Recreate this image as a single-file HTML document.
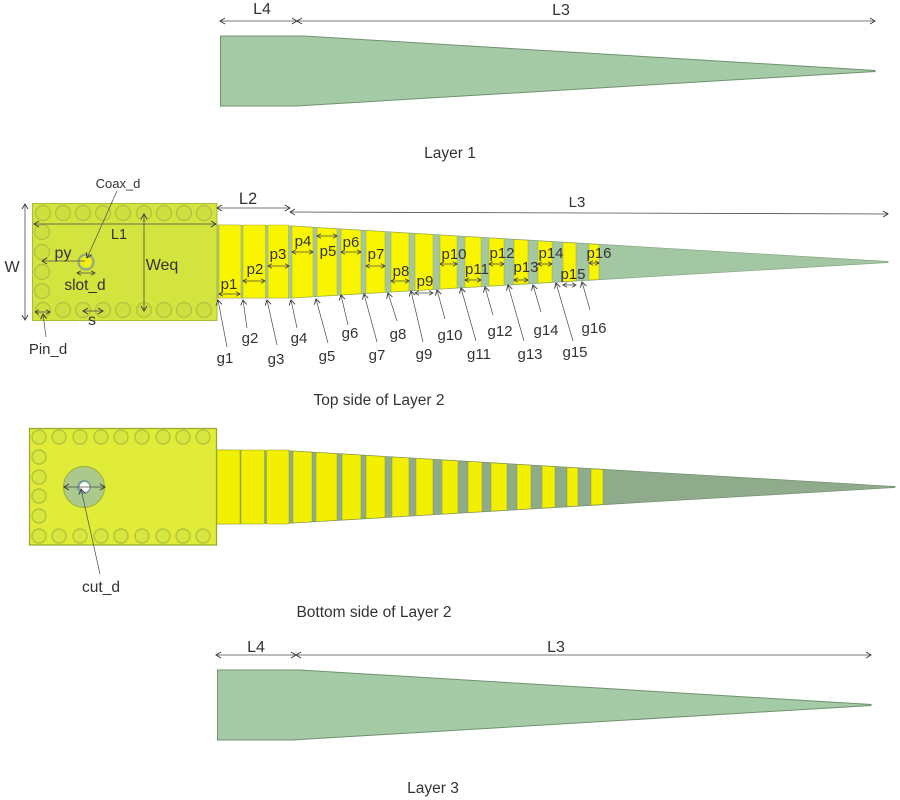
<!DOCTYPE html>
<html><head><meta charset="utf-8"><style>
html,body{margin:0;padding:0;background:#fff;width:900px;height:800px;overflow:hidden}
svg{display:block}
text{font-family:"Liberation Sans",sans-serif;fill:#333;text-anchor:middle}
.d{stroke:#4a4a4a;stroke-width:.8;fill:none;marker-start:url(#s);marker-end:url(#e)}
.a{stroke:#4a4a4a;stroke-width:.7;fill:none;marker-end:url(#e)}
.p{stroke:#4a4a4a;stroke-width:.8;fill:none;marker-start:url(#s2);marker-end:url(#e2)}
.c1 circle{fill:#cfdf40;stroke:#b3c53c;stroke-width:1.4}
.c2 circle{fill:#d8e640;stroke:#b4c43a;stroke-width:1.4}
.y1 polygon{fill:#f9f500;stroke:#a9ad2a;stroke-width:.5}
.y2 polygon{fill:#f2f000;stroke:#8d9a2a;stroke-width:.5}
.t15 text{font-size:15px}
</style></head><body>
<svg width="900" height="800" viewBox="0 0 900 800" xmlns="http://www.w3.org/2000/svg">
<defs>
<marker id="e" markerWidth="8" markerHeight="8" refX="6" refY="4" orient="auto" markerUnits="userSpaceOnUse"><path d="M1 1L6 4L1 7" fill="none" stroke="#333" stroke-width=".9"/></marker>
<marker id="s" markerWidth="8" markerHeight="8" refX="1" refY="4" orient="auto" markerUnits="userSpaceOnUse"><path d="M6 1L1 4L6 7" fill="none" stroke="#333" stroke-width=".9"/></marker>
<marker id="e2" markerWidth="6" markerHeight="6" refX="5" refY="3" orient="auto" markerUnits="userSpaceOnUse"><path d="M1 .7L5 3L1 5.3" fill="none" stroke="#333" stroke-width=".8"/></marker>
<marker id="s2" markerWidth="6" markerHeight="6" refX="1" refY="3" orient="auto" markerUnits="userSpaceOnUse"><path d="M5 .7L1 3L5 5.3" fill="none" stroke="#333" stroke-width=".8"/></marker>
</defs>

<!-- Layer 1 -->
<polygon points="220.500,36 304,36 875,70.500 875,71.500 296,106 220.500,106" fill="#a5cba6" stroke="#6f9170" stroke-width="1"/>
<line class="d" x1="220" y1="21" x2="297" y2="21"/>
<line class="d" x1="297" y1="21" x2="875" y2="21"/>
<text x="262" y="14" font-size="16">L4</text>
<text x="561" y="15" font-size="16">L3</text>
<text x="450" y="158" font-size="15.500">Layer 1</text>

<!-- Top of Layer 2 -->
<polygon points="217,225 292,226 888,261.500 888,262.500 292,298 217,298" fill="#a3c6a3" stroke="#86a786" stroke-width=".7"/>
<g class="y1">
<polygon points="219,225 241,225 241,298 219,298"/>
<polygon points="243,225 265.500,225 265.500,298 243,298"/>
<polygon points="268,225 288.500,225 288.500,298 268,298"/>
<polygon points="292,226.100 313,227.400 313,296.600 292,297.900"/>
<polygon points="317,227.600 337,228.800 337,295.200 317,296.400"/>
<polygon points="341,229.100 361,230.300 361,293.700 341,294.900"/>
<polygon points="366,230.600 385,231.700 385,292.300 366,293.400"/>
<polygon points="391,232.100 409,233.200 409,290.800 391,291.900"/>
<polygon points="415,233.500 433,234.600 433,289.400 415,290.500"/>
<polygon points="440,235 457,236.100 457,287.900 440,289"/>
<polygon points="465,236.500 481,237.500 481,286.500 465,287.500"/>
<polygon points="489,238 504,238.900 504,285.100 489,286"/>
<polygon points="514,239.500 528,240.300 528,283.700 514,284.500"/>
<polygon points="538,240.900 552,241.800 552,282.200 538,283.100"/>
<polygon points="563,242.400 576,243.200 576,280.800 563,281.600"/>
<polygon points="589,244 599,244.600 599,279.400 589,280"/>
</g>
<rect x="32.500" y="203.500" width="184.500" height="117" fill="#d4e43f" stroke="#a9b93a" stroke-width="1"/>
<g class="c1">
<circle cx="43" cy="213" r="7.500"/><circle cx="63" cy="213" r="7.500"/><circle cx="83" cy="213" r="7.500"/><circle cx="103" cy="213" r="7.500"/><circle cx="123" cy="213" r="7.500"/><circle cx="144" cy="213" r="7.500"/><circle cx="164" cy="213" r="7.500"/><circle cx="184" cy="213" r="7.500"/><circle cx="204" cy="213" r="7.500"/>
<circle cx="42" cy="232" r="7.500"/><circle cx="42" cy="252" r="7.500"/><circle cx="42" cy="272" r="7.500"/><circle cx="42" cy="291" r="7.500"/>
<circle cx="43" cy="310" r="7.500"/><circle cx="63" cy="310" r="7.500"/><circle cx="83" cy="310" r="7.500"/><circle cx="103" cy="310" r="7.500"/><circle cx="123" cy="310" r="7.500"/><circle cx="144" cy="310" r="7.500"/><circle cx="164" cy="310" r="7.500"/><circle cx="184" cy="310" r="7.500"/><circle cx="204" cy="310" r="7.500"/>
</g>
<circle cx="86" cy="262" r="7.500" fill="#d4e43f" stroke="#8fa67a" stroke-width="2"/>
<circle cx="86" cy="262" r="5" fill="#f4ee10"/>

<line class="d" x1="217" y1="208" x2="290" y2="208"/>
<line class="d" x1="290" y1="212" x2="888" y2="214"/>
<text x="248" y="204" font-size="16.500">L2</text>
<text x="577" y="207" font-size="15">L3</text>
<line class="d" x1="34" y1="224" x2="216" y2="224"/>
<line class="d" x1="25" y1="204" x2="25" y2="320"/>
<line class="d" x1="144" y1="214" x2="144" y2="311"/>
<line class="a" x1="85" y1="261" x2="42" y2="261"/>
<line class="p" x1="77" y1="273" x2="95" y2="273"/>
<line class="p" x1="35" y1="312" x2="50" y2="312"/>
<line class="d" x1="83" y1="311" x2="103" y2="311"/>
<line class="a" x1="117" y1="191" x2="87" y2="258"/>
<line class="a" x1="46" y1="337" x2="43" y2="314"/>
<text x="118" y="188" font-size="13">Coax_d</text>
<text x="119" y="239" font-size="14.500">L1</text>
<text x="12" y="272" font-size="16">W</text>
<text x="63" y="258" font-size="16">py</text>
<text x="85" y="290" font-size="15.500">slot_d</text>
<text x="162" y="270" font-size="16">Weq</text>
<text x="92" y="325" font-size="16">s</text>
<text x="48" y="354" font-size="15">Pin_d</text>

<!-- p dims -->
<line class="p" x1="219" y1="294" x2="240" y2="294"/>
<line class="p" x1="243" y1="281" x2="265" y2="281"/>
<line class="p" x1="268" y1="266" x2="289" y2="266"/>
<line class="p" x1="292" y1="252" x2="313" y2="252"/>
<line class="p" x1="317" y1="236" x2="337" y2="236"/>
<line class="p" x1="341" y1="252" x2="361" y2="252"/>
<line class="p" x1="366" y1="266" x2="385" y2="266"/>
<line class="p" x1="391" y1="281" x2="409" y2="281"/>
<line class="p" x1="415" y1="293" x2="433" y2="293"/>
<line class="p" x1="440" y1="264" x2="457" y2="264"/>
<line class="p" x1="465" y1="280" x2="481" y2="280"/>
<line class="p" x1="489" y1="264" x2="504" y2="264"/>
<line class="p" x1="514" y1="280" x2="528" y2="280"/>
<line class="p" x1="538" y1="264" x2="552" y2="264"/>
<line class="p" x1="563" y1="285" x2="576" y2="285"/>
<line class="p" x1="589" y1="263" x2="599" y2="263"/>
<g class="t15">
<text x="229" y="289">p1</text><text x="255" y="274">p2</text><text x="278" y="259">p3</text><text x="303" y="246">p4</text>
<text x="328" y="256">p5</text><text x="351" y="247">p6</text><text x="376" y="259">p7</text><text x="401" y="276">p8</text>
<text x="425" y="286">p9</text><text x="454" y="259">p10</text><text x="477" y="274">p11</text><text x="502" y="258">p12</text>
<text x="526" y="272">p13</text><text x="551" y="258">p14</text><text x="573" y="279">p15</text><text x="599" y="258">p16</text>
</g>
<!-- g arrows -->
<line class="a" x1="227" y1="347" x2="218" y2="300"/>
<line class="a" x1="247" y1="328" x2="243" y2="300"/>
<line class="a" x1="277" y1="345" x2="267" y2="300"/>
<line class="a" x1="297" y1="328" x2="291" y2="300"/>
<line class="a" x1="328" y1="343" x2="316" y2="299"/>
<line class="a" x1="348" y1="325" x2="341" y2="295"/>
<line class="a" x1="377" y1="342" x2="364" y2="294"/>
<line class="a" x1="397" y1="321" x2="388" y2="293"/>
<line class="a" x1="423" y1="342" x2="411" y2="291"/>
<line class="a" x1="445" y1="319" x2="437" y2="290"/>
<line class="a" x1="476" y1="341" x2="461" y2="288"/>
<line class="a" x1="493" y1="315" x2="485" y2="287"/>
<line class="a" x1="524" y1="341" x2="508" y2="285"/>
<line class="a" x1="541" y1="312" x2="533" y2="285"/>
<line class="a" x1="573" y1="341" x2="556" y2="283"/>
<line class="a" x1="590" y1="310" x2="582" y2="282"/>
<g class="t15">
<text x="225" y="363">g1</text><text x="250" y="343">g2</text><text x="276" y="364">g3</text><text x="299" y="343">g4</text>
<text x="327" y="361">g5</text><text x="350" y="338">g6</text><text x="377" y="360">g7</text><text x="398" y="339">g8</text>
<text x="424" y="359">g9</text><text x="450" y="340">g10</text><text x="479" y="359">g11</text><text x="500" y="336">g12</text>
<text x="530" y="359">g13</text><text x="546" y="335">g14</text><text x="575" y="357">g15</text><text x="594" y="333">g16</text>
</g>
<text x="379" y="405" font-size="15.500">Top side of Layer 2</text>

<!-- Bottom of Layer 2 -->
<polygon points="217,450 293,451 895,486.500 895,487.500 293,523 217,524" fill="#8fab8c" stroke="#728f70" stroke-width=".7"/>
<g class="y2">
<polygon points="217,450 240,450 240,524 217,524"/>
<polygon points="241,450 264.500,450 264.500,524 241,524"/>
<polygon points="266.500,450 289,450 289,524 266.500,524"/>
<polygon points="293,451.100 312,452.200 312,521.800 293,522.900"/>
<polygon points="316,452.400 337,453.700 337,520.300 316,521.600"/>
<polygon points="342,454 361,455.100 361,518.900 342,520"/>
<polygon points="366,455.400 385,456.600 385,517.400 366,518.600"/>
<polygon points="392,457 409,458 409,516 392,517"/>
<polygon points="416,458.400 433,459.400 433,514.600 416,515.600"/>
<polygon points="442,460 458,460.900 458,513.100 442,514"/>
<polygon points="468,461.500 482,462.300 482,511.700 468,512.500"/>
<polygon points="491,462.900 507,463.800 507,510.200 491,511.100"/>
<polygon points="517,464.400 531,465.300 531,508.700 517,509.600"/>
<polygon points="542,465.900 555,466.700 555,507.300 542,508.100"/>
<polygon points="567,467.400 578,468.100 578,505.900 567,506.600"/>
<polygon points="591,468.900 603,469.600 603,504.400 591,505.100"/>
</g>
<rect x="29.500" y="428.500" width="187" height="116.500" fill="#e0ec38" stroke="#95a82c" stroke-width="1.200"/>
<g class="c2">
<circle cx="39" cy="437" r="7"/><circle cx="59" cy="437" r="7"/><circle cx="80" cy="437" r="7"/><circle cx="101" cy="437" r="7"/><circle cx="121" cy="437" r="7"/><circle cx="142" cy="437" r="7"/><circle cx="163" cy="437" r="7"/><circle cx="183" cy="437" r="7"/><circle cx="203" cy="437" r="7"/>
<circle cx="39" cy="457" r="7"/><circle cx="39" cy="477" r="7"/><circle cx="39" cy="496" r="7"/><circle cx="39" cy="516" r="7"/>
<circle cx="39" cy="536" r="7"/><circle cx="59" cy="536" r="7"/><circle cx="80" cy="536" r="7"/><circle cx="101" cy="536" r="7"/><circle cx="121" cy="536" r="7"/><circle cx="142" cy="536" r="7"/><circle cx="163" cy="536" r="7"/><circle cx="183" cy="536" r="7"/><circle cx="203" cy="536" r="7"/>
</g>
<circle cx="84" cy="487" r="20.500" fill="#abc98c" stroke="#a1b53a" stroke-width="1.200"/>
<circle cx="84" cy="487" r="7" fill="#7f9f98"/>
<circle cx="84.500" cy="487" r="5" fill="#fff"/>
<line class="d" x1="64" y1="487" x2="105" y2="487"/>
<line class="a" x1="100" y1="574" x2="81" y2="489"/>
<text x="101" y="592" font-size="15.500">cut_d</text>
<text x="374" y="617" font-size="15.500">Bottom side of Layer 2</text>

<!-- Layer 3 -->
<polygon points="217.500,670 300,670 871,704.500 871,705.500 292,740 217.500,740" fill="#a5cba6" stroke="#6f9170" stroke-width="1"/>
<line class="d" x1="216" y1="655" x2="296" y2="655"/>
<line class="d" x1="296" y1="655" x2="871" y2="655"/>
<text x="256" y="652" font-size="16">L4</text>
<text x="556" y="652" font-size="16">L3</text>
<text x="433" y="793" font-size="15.500">Layer 3</text>
</svg>
</body></html>
